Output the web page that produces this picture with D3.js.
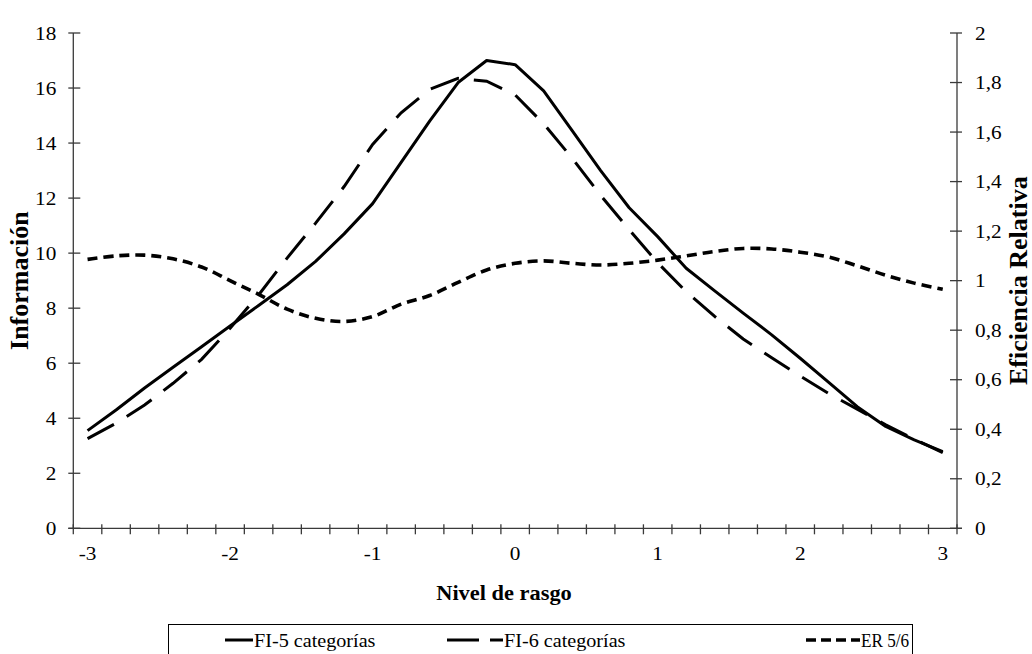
<!DOCTYPE html>
<html><head><meta charset="utf-8">
<script src="https://cdn.jsdelivr.net/npm/d3@7"></script>
<style>
body{margin:0;background:#fff}
svg{display:block}
</style>
</head><body>
<svg id="c" width="1032" height="654" font-family="'Liberation Serif', 'Times New Roman', 'DejaVu Serif', serif"></svg>
<script>
// ---- data ----
const nivel = [-3,-2.8,-2.6,-2.4,-2.2,-2,-1.8,-1.6,-1.4,-1.2,-1,-0.8,-0.6,-0.4,-0.2,0,0.2,0.4,0.6,0.8,1,1.2,1.4,1.6,1.8,2,2.2,2.4,2.6,2.8,3];
const xLabelValues = [-3,-2,-1,0,1,2,3];
const xTickLabels = ["-3","-2","-1","0","1","2","3"];
const fi5 = [3.55,4.3,5.1,5.85,6.6,7.35,8.1,8.85,9.7,10.7,11.8,13.3,14.8,16.2,17.0,16.85,15.9,14.45,13.0,11.65,10.6,9.45,8.63,7.82,7.03,6.18,5.3,4.42,3.7,3.21,2.79];
const fi6 = [3.26,3.82,4.48,5.27,6.14,7.27,8.48,9.82,11.09,12.42,13.95,15.1,15.95,16.35,16.25,15.75,14.7,13.45,12.1,10.85,9.65,8.6,7.7,6.88,6.2,5.53,4.9,4.33,3.76,3.24,2.75];
const er56 = [1.086,1.1,1.103,1.088,1.055,1.0,0.945,0.885,0.848,0.835,0.855,0.905,0.94,0.993,1.043,1.07,1.08,1.07,1.063,1.07,1.083,1.1,1.118,1.13,1.128,1.115,1.095,1.06,1.022,0.99,0.965];
const leftTicks = [0,2,4,6,8,10,12,14,16,18];
const leftTickLabels = ["0","2","4","6","8","10","12","14","16","18"];
const rightTicks = [0,0.2,0.4,0.6,0.8,1,1.2,1.4,1.6,1.8,2];
const rightTickLabels = ["0","0,2","0,4","0,6","0,8","1","1,2","1,4","1,6","1,8","2"];
const seriesNames = ["FI-5 categorías","FI-6 categorías","ER 5/6"];

// ---- layout ----
const L = 73.3, R = 957, T = 33, B = 528.3;
const SX = 1.12; // horizontal text stretch
const svg = d3.select("#c");

const x = d3.scaleBand().domain(nivel).range([L, R]).padding(0);
const bw = x.bandwidth();
const yL = d3.scaleLinear().domain([0, 18]).range([B, T]);
const yR = d3.scaleLinear().domain([0, 2]).range([B, T]);

function stxt(g, str, px, py, anchor, size, weight) {
  return g.append("text")
    .attr("transform", `translate(${px},${py}) scale(${SX},1)`)
    .attr("text-anchor", anchor)
    .attr("font-size", size)
    .attr("font-weight", weight || "normal")
    .attr("fill", "#000")
    .text(str);
}

const axisColor = "#3a3a3a";
const ax = svg.append("g");
ax.append("line").attr("x1", L).attr("x2", L).attr("y1", T).attr("y2", B).attr("stroke", axisColor).attr("stroke-width", 1.3);
ax.append("line").attr("x1", R).attr("x2", R).attr("y1", T).attr("y2", B).attr("stroke", axisColor).attr("stroke-width", 1.3);
ax.append("line").attr("x1", L - 5).attr("x2", R + 5).attr("y1", B).attr("y2", B).attr("stroke", axisColor).attr("stroke-width", 1.3);

const bounds = nivel.map(v => x(v)).concat([x.range()[1]]);
bounds.forEach(bx => {
  ax.append("line").attr("x1", bx).attr("x2", bx).attr("y1", B - 4).attr("y2", B + 6).attr("stroke", axisColor).attr("stroke-width", 1.3);
});
xLabelValues.forEach((v, i) => {
  stxt(ax, xTickLabels[i], x(v) + bw / 2, B + 32, "middle", 19);
});
leftTicks.forEach((v, i) => {
  ax.append("line").attr("x1", L - 5).attr("x2", L + 7).attr("y1", yL(v)).attr("y2", yL(v)).attr("stroke", axisColor).attr("stroke-width", 1.3);
  stxt(ax, leftTickLabels[i], L - 17, yL(v) + 6.5, "end", 19);
});
rightTicks.forEach((v, i) => {
  ax.append("line").attr("x1", R - 7).attr("x2", R + 5).attr("y1", yR(v)).attr("y2", yR(v)).attr("stroke", axisColor).attr("stroke-width", 1.3);
  stxt(ax, rightTickLabels[i], R + 18, yR(v) + 6.5, "start", 19);
});

// axis titles
stxt(svg, "Nivel de rasgo", 504, 600, "middle", 20, "bold");
svg.append("text").attr("transform", `translate(28,${(T + B) / 2}) rotate(-90)`)
  .attr("text-anchor", "middle").attr("font-size", 26).attr("font-weight", "bold").attr("fill", "#000").text("Información");
svg.append("text").attr("transform", `translate(1027,${(T + B) / 2}) rotate(-90)`)
  .attr("text-anchor", "middle").attr("font-size", 26).attr("font-weight", "bold").attr("fill", "#000").text("Eficiencia Relativa");

// series
const cx = d => x(d) + bw / 2;
const lineSolid = d3.line().x((d, i) => cx(nivel[i])).y(d => yL(d));
const lineER = d3.line().x((d, i) => cx(nivel[i])).y(d => yR(d)).curve(d3.curveCatmullRom);
const plot = svg.append("g").attr("fill", "none").attr("stroke", "#000");
plot.append("path").attr("d", lineER(er56)).attr("stroke-width", 3.6).attr("stroke-dasharray", "10,6");
plot.append("path").attr("d", lineSolid(fi6)).attr("stroke-width", 3).attr("stroke-dasharray", "30,15");
plot.append("path").attr("d", lineSolid(fi5)).attr("stroke-width", 3).attr("stroke-linejoin", "round");

// legend
const lg = svg.append("g");
lg.append("rect").attr("x", 168.5).attr("y", 624.5).attr("width", 744).attr("height", 60).attr("fill", "none").attr("stroke", "#000").attr("stroke-width", 1);
const ly = 640;
lg.append("line").attr("x1", 225).attr("x2", 253).attr("y1", ly).attr("y2", ly).attr("stroke", "#000").attr("stroke-width", 3);
stxt(lg, seriesNames[0], 254, ly + 6.5, "start", 18);
lg.append("line").attr("x1", 447).attr("x2", 503).attr("y1", ly).attr("y2", ly).attr("stroke", "#000").attr("stroke-width", 3).attr("stroke-dasharray", "32,11");
stxt(lg, seriesNames[1], 504, ly + 6.5, "start", 18);
lg.append("line").attr("x1", 806).attr("x2", 860).attr("y1", ly).attr("y2", ly).attr("stroke", "#000").attr("stroke-width", 3.6).attr("stroke-dasharray", "10,5");
stxt(lg, seriesNames[2], 861, ly + 6.5, "start", 18)
  .attr("textLength", 43).attr("lengthAdjust", "spacingAndGlyphs");
</script>
</body></html>
